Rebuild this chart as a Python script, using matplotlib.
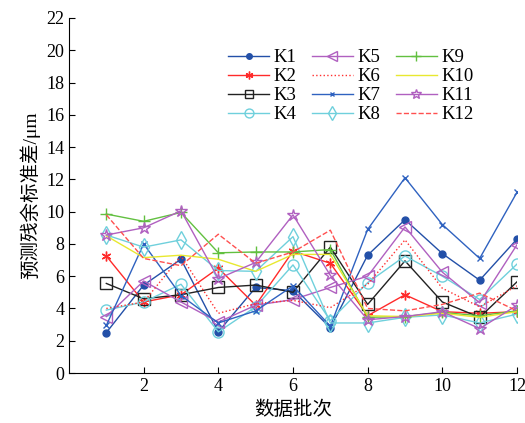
import matplotlib
matplotlib.use('Agg')
import matplotlib.pyplot as plt

plt.rcParams['font.family'] = ['Liberation Serif', 'Noto Sans CJK SC']

batch = [1, 2, 3, 4, 5, 6, 7, 8, 9, 10, 11, 12]
K1 = [2.5, 5.45, 7.05, 2.55, 5.3, 5.1, 2.8, 7.3, 9.5, 7.4, 5.75, 8.3]
K2 = [7.25, 4.4, 4.85, 6.5, 4.2, 7.55, 6.8, 3.55, 4.85, 3.8, 3.7, 3.8]
K3 = [5.55, 4.6, 4.85, 5.3, 5.45, 5.0, 7.8, 4.25, 6.95, 4.4, 3.45, 5.65]
K4 = [3.9, 4.4, 5.5, 2.55, 4.1, 6.7, 3.25, 5.6, 7.25, 6.0, 4.55, 6.75]
K5 = [3.5, 5.7, 4.4, 3.15, 4.2, 4.55, 5.3, 6.0, 9.05, 6.25, 4.35, 7.95]
K6 = [4.0, 4.4, 7.25, 3.7, 4.3, 4.5, 4.05, 5.5, 8.25, 5.25, 4.1, 5.4]
K7 = [2.95, 8.0, 4.8, 3.1, 3.85, 5.4, 2.9, 8.9, 12.1, 9.2, 7.1, 11.2]
K8 = [8.55, 7.8, 8.25, 6.35, 6.3, 8.45, 3.1, 3.1, 3.45, 3.6, 3.1, 3.65]
K9 = [9.85, 9.4, 9.95, 7.45, 7.5, 7.5, 7.65, 3.45, 3.5, 3.75, 3.55, 3.85]
K10 = [8.5, 7.15, 7.3, 7.05, 6.3, 7.35, 7.35, 3.55, 3.5, 3.7, 3.45, 3.8]
K11 = [8.55, 9.0, 10.05, 5.85, 6.85, 9.8, 6.05, 3.3, 3.5, 3.8, 2.75, 4.2]
K12 = [9.8, 7.1, 6.65, 8.6, 6.8, 7.5, 8.85, 4.0, 3.85, 4.25, 4.95, 3.85]

series = [K1, K2, K3, K4, K5, K6, K7, K8, K9, K10, K11, K12]
names = ['K1', 'K2', 'K3', 'K4', 'K5', 'K6', 'K7', 'K8', 'K9', 'K10', 'K11', 'K12']

# colour, linestyle, marker, markersize, filled
styles = [
    ('#2350a8', '-', 'o', 5, True),
    ('#ff2a2a', '-', (6, 2, 0), 7, True),
    ('#222222', '-', 's', 8, False),
    ('#6fd0dc', '-', 'o', 8, False),
    ('#b060c0', '-', '<', 9, False),
    ('#ff3030', ':', None, 0, False),
    ('#2f62c0', '-', 'x', 4, True),
    ('#6fd0dc', '-', 'd', 9, False),
    ('#62c040', '-', '+', 9, True),
    ('#e8e830', '-', None, 0, False),
    ('#b060c0', '-', '*', 9, False),
    ('#ff5050', '--', None, 0, False),
]

fig = plt.figure(figsize=(5.25, 4.23), dpi=100)
ax = fig.add_axes([69 / 525, 50 / 423, 448 / 525, 355 / 423])

for vals, name, (c, ls, mk, ms, filled) in zip(series, names, styles):
    ax.plot(batch, vals, color=c, linestyle=ls, linewidth=1.0,
            marker=mk, markersize=ms,
            markerfacecolor=c if filled else 'none',
            markeredgecolor=c, markeredgewidth=1.0, label=name)

ax.set_xlim(0, 12)
ax.set_ylim(0, 22)
ax.set_xticks([2, 4, 6, 8, 10, 12])
ax.set_yticks(range(0, 23, 2))
ax.tick_params(direction='in', labelsize=13, length=4)
ax.spines['top'].set_visible(False)
ax.spines['right'].set_visible(False)

ax.set_xlabel('数据批次', fontsize=14)
ax.set_ylabel('预测残余标准差/μm', fontsize=14)

ax.legend(ncol=3, frameon=False, fontsize=13.5, loc='upper left',
          bbox_to_anchor=((228 - 69) / 448, (373 - 49) / 355),
          borderpad=0, borderaxespad=0, handlelength=2.2,
          columnspacing=0.8, labelspacing=0.1, handletextpad=0.25,
          markerscale=0.8)

fig.savefig('out.png', dpi=100)
